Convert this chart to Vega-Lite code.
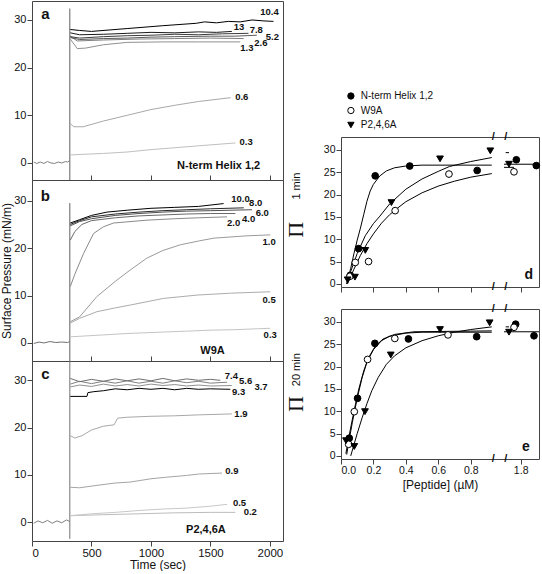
{
"$schema":"https://vega.github.io/schema/vega-lite/v6.json",
"padding":{"left":0,"top":0,"right":2,"bottom":0},
"background":"white",
"datasets":{
"tr":[
{"g":"a","s":"base","t":15,"p":0.2},{"g":"a","s":"base","t":40,"p":-0.1},{"g":"a","s":"base","t":70,"p":0.2},{"g":"a","s":"base","t":100,"p":-0.1},{"g":"a","s":"base","t":130,"p":0.3},{"g":"a","s":"base","t":160,"p":0},{"g":"a","s":"base","t":190,"p":-0.1},{"g":"a","s":"base","t":220,"p":0.2},{"g":"a","s":"base","t":250,"p":0},{"g":"a","s":"base","t":280,"p":0.3},{"g":"a","s":"base","t":300,"p":0.2},{"g":"a","s":"base","t":316,"p":0.5},
{"g":"a","s":"spike","t":318,"p":-3.57},{"g":"a","s":"spike","t":318,"p":32.4},
{"g":"a","s":"0.3","t":322,"p":1.7},{"g":"a","s":"0.3","t":600,"p":2.0},{"g":"a","s":"0.3","t":800,"p":2.3},{"g":"a","s":"0.3","t":1000,"p":2.8},{"g":"a","s":"0.3","t":1200,"p":3.2},{"g":"a","s":"0.3","t":1400,"p":3.6},{"g":"a","s":"0.3","t":1710,"p":4.2},
{"g":"a","s":"0.6","t":322,"p":8.3},{"g":"a","s":"0.6","t":350,"p":7.6},{"g":"a","s":"0.6","t":430,"p":7.6},{"g":"a","s":"0.6","t":600,"p":8.8},{"g":"a","s":"0.6","t":800,"p":10.0},{"g":"a","s":"0.6","t":1000,"p":11.2},{"g":"a","s":"0.6","t":1200,"p":12.1},{"g":"a","s":"0.6","t":1400,"p":12.9},{"g":"a","s":"0.6","t":1670,"p":13.7},
{"g":"a","s":"1.3","t":322,"p":26.0},{"g":"a","s":"1.3","t":380,"p":24.0},{"g":"a","s":"1.3","t":450,"p":24.1},{"g":"a","s":"1.3","t":600,"p":24.8},{"g":"a","s":"1.3","t":800,"p":25.3},{"g":"a","s":"1.3","t":1100,"p":25.4},{"g":"a","s":"1.3","t":1400,"p":25.4},{"g":"a","s":"1.3","t":1750,"p":25.4},
{"g":"a","s":"2.6","t":322,"p":26.6},{"g":"a","s":"2.6","t":380,"p":25.6},{"g":"a","s":"2.6","t":600,"p":25.8},{"g":"a","s":"2.6","t":900,"p":26.0},{"g":"a","s":"2.6","t":1200,"p":26.1},{"g":"a","s":"2.6","t":1500,"p":26.2},{"g":"a","s":"2.6","t":1780,"p":26.1},
{"g":"a","s":"5.2","t":322,"p":26.3},{"g":"a","s":"5.2","t":400,"p":25.9},{"g":"a","s":"5.2","t":600,"p":26.1},{"g":"a","s":"5.2","t":800,"p":26.2},{"g":"a","s":"5.2","t":1000,"p":26.4},{"g":"a","s":"5.2","t":1200,"p":26.5},{"g":"a","s":"5.2","t":1500,"p":26.6},{"g":"a","s":"5.2","t":1700,"p":26.6},{"g":"a","s":"5.2","t":1890,"p":26.8},
{"g":"a","s":"7.8","t":322,"p":26.5},{"g":"a","s":"7.8","t":400,"p":26.2},{"g":"a","s":"7.8","t":600,"p":26.5},{"g":"a","s":"7.8","t":800,"p":26.7},{"g":"a","s":"7.8","t":1000,"p":26.8},{"g":"a","s":"7.8","t":1200,"p":27.0},{"g":"a","s":"7.8","t":1400,"p":26.9},{"g":"a","s":"7.8","t":1600,"p":27.1},{"g":"a","s":"7.8","t":1820,"p":27.2},
{"g":"a","s":"13","t":322,"p":27.3},{"g":"a","s":"13","t":400,"p":26.9},{"g":"a","s":"13","t":600,"p":27.0},{"g":"a","s":"13","t":800,"p":27.2},{"g":"a","s":"13","t":1000,"p":27.4},{"g":"a","s":"13","t":1200,"p":27.3},{"g":"a","s":"13","t":1400,"p":27.5},{"g":"a","s":"13","t":1550,"p":27.4},{"g":"a","s":"13","t":1680,"p":27.6},
{"g":"a","s":"10.4","t":322,"p":28.0},{"g":"a","s":"10.4","t":400,"p":27.8},{"g":"a","s":"10.4","t":500,"p":27.6},{"g":"a","s":"10.4","t":800,"p":28.2},{"g":"a","s":"10.4","t":1100,"p":28.8},{"g":"a","s":"10.4","t":1380,"p":29.3},{"g":"a","s":"10.4","t":1450,"p":29.6},{"g":"a","s":"10.4","t":1550,"p":29.4},{"g":"a","s":"10.4","t":1650,"p":29.7},{"g":"a","s":"10.4","t":1750,"p":29.6},{"g":"a","s":"10.4","t":1850,"p":30.0},{"g":"a","s":"10.4","t":1950,"p":29.8},{"g":"a","s":"10.4","t":2030,"p":29.7},
{"g":"b","s":"base","t":15,"p":-0.1},{"g":"b","s":"base","t":60,"p":0.2},{"g":"b","s":"base","t":100,"p":0},{"g":"b","s":"base","t":150,"p":0.3},{"g":"b","s":"base","t":200,"p":0.1},{"g":"b","s":"base","t":250,"p":0.2},{"g":"b","s":"base","t":300,"p":0.1},{"g":"b","s":"base","t":316,"p":0.3},
{"g":"b","s":"spike","t":318,"p":-3.8},{"g":"b","s":"spike","t":318,"p":29.5},
{"g":"b","s":"0.3","t":322,"p":1.3},{"g":"b","s":"0.3","t":600,"p":1.7},{"g":"b","s":"0.3","t":800,"p":2.0},{"g":"b","s":"0.3","t":1100,"p":2.3},{"g":"b","s":"0.3","t":1300,"p":2.5},{"g":"b","s":"0.3","t":1500,"p":2.7},{"g":"b","s":"0.3","t":1700,"p":2.8},{"g":"b","s":"0.3","t":2003,"p":3.1},
{"g":"b","s":"0.5","t":322,"p":4.2},{"g":"b","s":"0.5","t":400,"p":5.2},{"g":"b","s":"0.5","t":546,"p":6.6},{"g":"b","s":"0.5","t":700,"p":7.4},{"g":"b","s":"0.5","t":826,"p":8.0},{"g":"b","s":"0.5","t":1106,"p":9.4},{"g":"b","s":"0.5","t":1387,"p":10.1},{"g":"b","s":"0.5","t":1667,"p":10.5},{"g":"b","s":"0.5","t":2003,"p":10.8},
{"g":"b","s":"1.0","t":322,"p":4.5},{"g":"b","s":"1.0","t":400,"p":5.5},{"g":"b","s":"1.0","t":546,"p":9.8},{"g":"b","s":"1.0","t":700,"p":13.0},{"g":"b","s":"1.0","t":826,"p":15.4},{"g":"b","s":"1.0","t":966,"p":17.9},{"g":"b","s":"1.0","t":1100,"p":19.5},{"g":"b","s":"1.0","t":1246,"p":20.7},{"g":"b","s":"1.0","t":1400,"p":21.5},{"g":"b","s":"1.0","t":1527,"p":22.1},{"g":"b","s":"1.0","t":1807,"p":22.6},{"g":"b","s":"1.0","t":2003,"p":22.8},
{"g":"b","s":"2.0","t":322,"p":11.9},{"g":"b","s":"2.0","t":360,"p":14.5},{"g":"b","s":"2.0","t":434,"p":18.9},{"g":"b","s":"2.0","t":518,"p":23.1},{"g":"b","s":"2.0","t":600,"p":24.5},{"g":"b","s":"2.0","t":686,"p":25.3},{"g":"b","s":"2.0","t":966,"p":25.9},{"g":"b","s":"2.0","t":1200,"p":26.2},{"g":"b","s":"2.0","t":1400,"p":26.4},{"g":"b","s":"2.0","t":1640,"p":26.6},
{"g":"b","s":"4.0","t":322,"p":21.7},{"g":"b","s":"4.0","t":360,"p":23.5},{"g":"b","s":"4.0","t":420,"p":25.0},{"g":"b","s":"4.0","t":500,"p":25.8},{"g":"b","s":"4.0","t":700,"p":26.4},{"g":"b","s":"4.0","t":900,"p":26.8},{"g":"b","s":"4.0","t":1100,"p":27.0},{"g":"b","s":"4.0","t":1300,"p":27.2},{"g":"b","s":"4.0","t":1500,"p":27.3},{"g":"b","s":"4.0","t":1710,"p":27.3},
{"g":"b","s":"6.0","t":322,"p":24.7},{"g":"b","s":"6.0","t":400,"p":25.6},{"g":"b","s":"6.0","t":500,"p":26.2},{"g":"b","s":"6.0","t":700,"p":26.9},{"g":"b","s":"6.0","t":900,"p":27.3},{"g":"b","s":"6.0","t":1100,"p":27.6},{"g":"b","s":"6.0","t":1300,"p":27.8},{"g":"b","s":"6.0","t":1500,"p":27.9},{"g":"b","s":"6.0","t":1850,"p":28.1},
{"g":"b","s":"8.0","t":322,"p":25.0},{"g":"b","s":"8.0","t":400,"p":25.8},{"g":"b","s":"8.0","t":500,"p":26.6},{"g":"b","s":"8.0","t":700,"p":27.2},{"g":"b","s":"8.0","t":900,"p":27.6},{"g":"b","s":"8.0","t":1100,"p":27.9},{"g":"b","s":"8.0","t":1300,"p":28.1},{"g":"b","s":"8.0","t":1500,"p":28.3},{"g":"b","s":"8.0","t":1780,"p":28.5},
{"g":"b","s":"10.0","t":322,"p":25.3},{"g":"b","s":"10.0","t":400,"p":26.0},{"g":"b","s":"10.0","t":500,"p":26.9},{"g":"b","s":"10.0","t":630,"p":27.6},{"g":"b","s":"10.0","t":800,"p":28.0},{"g":"b","s":"10.0","t":1000,"p":28.4},{"g":"b","s":"10.0","t":1200,"p":28.6},{"g":"b","s":"10.0","t":1400,"p":28.8},{"g":"b","s":"10.0","t":1611,"p":29.4},
{"g":"c","s":"base","t":15,"p":-0.2},{"g":"c","s":"base","t":50,"p":0.3},{"g":"c","s":"base","t":90,"p":-0.1},{"g":"c","s":"base","t":130,"p":0.4},{"g":"c","s":"base","t":170,"p":-0.2},{"g":"c","s":"base","t":210,"p":0.3},{"g":"c","s":"base","t":250,"p":-0.1},{"g":"c","s":"base","t":290,"p":0.5},{"g":"c","s":"base","t":316,"p":0.2},
{"g":"c","s":"spike","t":318,"p":-3.5},{"g":"c","s":"spike","t":318,"p":34.08},
{"g":"c","s":"0.2","t":322,"p":1.4},{"g":"c","s":"0.2","t":600,"p":1.6},{"g":"c","s":"0.2","t":900,"p":1.8},{"g":"c","s":"0.2","t":1200,"p":2.0},{"g":"c","s":"0.2","t":1500,"p":2.1},{"g":"c","s":"0.2","t":1710,"p":2.1},
{"g":"c","s":"0.5","t":322,"p":1.4},{"g":"c","s":"0.5","t":500,"p":1.8},{"g":"c","s":"0.5","t":700,"p":2.1},{"g":"c","s":"0.5","t":900,"p":2.5},{"g":"c","s":"0.5","t":1100,"p":2.8},{"g":"c","s":"0.5","t":1300,"p":3.0},{"g":"c","s":"0.5","t":1500,"p":3.4},{"g":"c","s":"0.5","t":1640,"p":3.8},
{"g":"c","s":"0.9","t":322,"p":7.4},{"g":"c","s":"0.9","t":400,"p":7.3},{"g":"c","s":"0.9","t":546,"p":7.8},{"g":"c","s":"0.9","t":700,"p":8.3},{"g":"c","s":"0.9","t":826,"p":8.5},{"g":"c","s":"0.9","t":1000,"p":9.2},{"g":"c","s":"0.9","t":1120,"p":9.5},{"g":"c","s":"0.9","t":1300,"p":9.9},{"g":"c","s":"0.9","t":1400,"p":10.2},{"g":"c","s":"0.9","t":1597,"p":10.4},
{"g":"c","s":"1.9","t":322,"p":18.3},{"g":"c","s":"1.9","t":360,"p":17.8},{"g":"c","s":"1.9","t":420,"p":18.3},{"g":"c","s":"1.9","t":500,"p":19.5},{"g":"c","s":"1.9","t":600,"p":20.3},{"g":"c","s":"1.9","t":690,"p":20.6},{"g":"c","s":"1.9","t":720,"p":22.0},{"g":"c","s":"1.9","t":800,"p":22.2},{"g":"c","s":"1.9","t":1000,"p":22.4},{"g":"c","s":"1.9","t":1200,"p":22.5},{"g":"c","s":"1.9","t":1400,"p":22.7},{"g":"c","s":"1.9","t":1680,"p":22.9},
{"g":"c","s":"3.7","t":322,"p":28.6},{"g":"c","s":"3.7","t":400,"p":29.0},{"g":"c","s":"3.7","t":500,"p":28.7},{"g":"c","s":"3.7","t":600,"p":29.2},{"g":"c","s":"3.7","t":700,"p":28.8},{"g":"c","s":"3.7","t":800,"p":29.1},{"g":"c","s":"3.7","t":900,"p":28.8},{"g":"c","s":"3.7","t":1000,"p":29.2},{"g":"c","s":"3.7","t":1100,"p":28.9},{"g":"c","s":"3.7","t":1200,"p":29.1},{"g":"c","s":"3.7","t":1300,"p":28.8},{"g":"c","s":"3.7","t":1400,"p":29.0},{"g":"c","s":"3.7","t":1500,"p":28.8},{"g":"c","s":"3.7","t":1680,"p":28.9},
{"g":"c","s":"5.6","t":322,"p":29.2},{"g":"c","s":"5.6","t":400,"p":29.8},{"g":"c","s":"5.6","t":500,"p":29.3},{"g":"c","s":"5.6","t":600,"p":29.8},{"g":"c","s":"5.6","t":700,"p":29.4},{"g":"c","s":"5.6","t":800,"p":29.9},{"g":"c","s":"5.6","t":900,"p":29.4},{"g":"c","s":"5.6","t":1000,"p":29.8},{"g":"c","s":"5.6","t":1100,"p":29.4},{"g":"c","s":"5.6","t":1200,"p":29.9},{"g":"c","s":"5.6","t":1300,"p":29.5},{"g":"c","s":"5.6","t":1400,"p":29.8},{"g":"c","s":"5.6","t":1500,"p":29.4},{"g":"c","s":"5.6","t":1640,"p":29.6},
{"g":"c","s":"7.4","t":322,"p":30.4},{"g":"c","s":"7.4","t":400,"p":29.7},{"g":"c","s":"7.4","t":500,"p":30.2},{"g":"c","s":"7.4","t":600,"p":29.8},{"g":"c","s":"7.4","t":700,"p":30.3},{"g":"c","s":"7.4","t":800,"p":29.9},{"g":"c","s":"7.4","t":900,"p":30.3},{"g":"c","s":"7.4","t":1000,"p":29.9},{"g":"c","s":"7.4","t":1100,"p":30.4},{"g":"c","s":"7.4","t":1200,"p":29.9},{"g":"c","s":"7.4","t":1300,"p":30.3},{"g":"c","s":"7.4","t":1400,"p":30.0},{"g":"c","s":"7.4","t":1500,"p":30.2},{"g":"c","s":"7.4","t":1583,"p":30.0},
{"g":"c","s":"9.3","t":322,"p":26.6},{"g":"c","s":"9.3","t":462,"p":26.6},{"g":"c","s":"9.3","t":470,"p":27.4},{"g":"c","s":"9.3","t":520,"p":27.6},{"g":"c","s":"9.3","t":600,"p":27.8},{"g":"c","s":"9.3","t":700,"p":28.2},{"g":"c","s":"9.3","t":800,"p":28.0},{"g":"c","s":"9.3","t":900,"p":28.3},{"g":"c","s":"9.3","t":1000,"p":28.1},{"g":"c","s":"9.3","t":1100,"p":28.3},{"g":"c","s":"9.3","t":1200,"p":28.0},{"g":"c","s":"9.3","t":1300,"p":28.3},{"g":"c","s":"9.3","t":1400,"p":28.1},{"g":"c","s":"9.3","t":1500,"p":28.2},{"g":"c","s":"9.3","t":1667,"p":28.1}
],
"an":[
{"g":"a","k":"c","txt":"10.4","t":1919,"p":31.7},{"g":"a","k":"c","txt":"13","t":1695,"p":28.6},{"g":"a","k":"c","txt":"7.8","t":1830,"p":28.0},{"g":"a","k":"c","txt":"5.2","t":1965,"p":26.5},{"g":"a","k":"c","txt":"2.6","t":1868,"p":25.1},{"g":"a","k":"c","txt":"1.3","t":1751,"p":24.2},{"g":"a","k":"c","txt":"0.6","t":1708,"p":13.8},{"g":"a","k":"c","txt":"0.3","t":1745,"p":4.5},
{"g":"a","k":"n","txt":"N-term Helix 1,2","t":1569,"p":-0.6},{"g":"a","k":"l","txt":"a","t":113,"p":31.2},
{"g":"b","k":"c","txt":"10.0","t":1675,"p":30.3},{"g":"b","k":"c","txt":"8.0","t":1825,"p":29.6},{"g":"b","k":"c","txt":"6.0","t":1880,"p":27.5},{"g":"b","k":"c","txt":"4.0","t":1765,"p":26.2},{"g":"b","k":"c","txt":"2.0","t":1640,"p":25.3},{"g":"b","k":"c","txt":"1.0","t":1938,"p":21.4},{"g":"b","k":"c","txt":"0.5","t":1938,"p":9.1},{"g":"b","k":"c","txt":"0.3","t":1947,"p":1.7},
{"g":"b","k":"n","txt":"W9A","t":1518,"p":-1.6},{"g":"b","k":"l","txt":"b","t":113,"p":30.9},
{"g":"c","k":"c","txt":"7.4","t":1620,"p":30.9},{"g":"c","k":"c","txt":"5.6","t":1740,"p":29.8},{"g":"c","k":"c","txt":"3.7","t":1870,"p":28.5},{"g":"c","k":"c","txt":"9.3","t":1681,"p":27.5},{"g":"c","k":"c","txt":"1.9","t":1701,"p":22.9},{"g":"c","k":"c","txt":"0.9","t":1625,"p":10.8},{"g":"c","k":"c","txt":"0.5","t":1689,"p":4.1},{"g":"c","k":"c","txt":"0.2","t":1779,"p":2.1},
{"g":"c","k":"n","txt":"P2,4,6A","t":1462,"p":-1.6},{"g":"c","k":"l","txt":"c","t":113,"p":31.4}
],
"pts":[
{"g":"d","pep":"N-term Helix 1,2","c":0.057,"v":1.9},{"g":"d","pep":"N-term Helix 1,2","c":0.108,"v":7.9},{"g":"d","pep":"N-term Helix 1,2","c":0.211,"v":24.2},{"g":"d","pep":"N-term Helix 1,2","c":0.424,"v":26.4},{"g":"d","pep":"N-term Helix 1,2","c":0.84,"v":25.4},{"g":"d","pep":"N-term Helix 1,2","c":1.774,"v":27.8},{"g":"d","pep":"N-term Helix 1,2","c":1.894,"v":26.5},
{"g":"d","pep":"W9A","c":0.055,"v":1.7},{"g":"d","pep":"W9A","c":0.088,"v":4.8},{"g":"d","pep":"W9A","c":0.17,"v":5.0},{"g":"d","pep":"W9A","c":0.334,"v":16.4},{"g":"d","pep":"W9A","c":0.666,"v":24.6},{"g":"d","pep":"W9A","c":1.76,"v":25.1},
{"g":"d","pep":"P2,4,6A","c":0.041,"v":0.9},{"g":"d","pep":"P2,4,6A","c":0.086,"v":1.5},{"g":"d","pep":"P2,4,6A","c":0.15,"v":7.5},{"g":"d","pep":"P2,4,6A","c":0.311,"v":18.2},{"g":"d","pep":"P2,4,6A","c":0.611,"v":28.0},{"g":"d","pep":"P2,4,6A","c":0.921,"v":29.8},{"g":"d","pep":"P2,4,6A","c":1.73,"v":26.8},
{"g":"e","pep":"N-term Helix 1,2","c":0.051,"v":3.96},{"g":"e","pep":"N-term Helix 1,2","c":0.102,"v":12.9},{"g":"e","pep":"N-term Helix 1,2","c":0.209,"v":25.2},{"g":"e","pep":"N-term Helix 1,2","c":0.416,"v":26.2},{"g":"e","pep":"N-term Helix 1,2","c":0.837,"v":26.7},{"g":"e","pep":"N-term Helix 1,2","c":1.77,"v":29.5},{"g":"e","pep":"N-term Helix 1,2","c":1.88,"v":26.9},
{"g":"e","pep":"W9A","c":0.047,"v":2.6},{"g":"e","pep":"W9A","c":0.082,"v":9.9},{"g":"e","pep":"W9A","c":0.164,"v":21.6},{"g":"e","pep":"W9A","c":0.332,"v":26.3},{"g":"e","pep":"W9A","c":0.66,"v":27.1},{"g":"e","pep":"W9A","c":1.76,"v":28.8},
{"g":"e","pep":"P2,4,6A","c":0.031,"v":3.4},{"g":"e","pep":"P2,4,6A","c":0.082,"v":2.1},{"g":"e","pep":"P2,4,6A","c":0.148,"v":9.9},{"g":"e","pep":"P2,4,6A","c":0.307,"v":22.6},{"g":"e","pep":"P2,4,6A","c":0.611,"v":28.3},{"g":"e","pep":"P2,4,6A","c":0.917,"v":29.8},{"g":"e","pep":"P2,4,6A","c":1.73,"v":27.7}
],
"fit":[
{"g":"d","k":"N","c":0.035,"v":0},{"g":"d","k":"N","c":0.06,"v":3.5},{"g":"d","k":"N","c":0.08,"v":6.8},{"g":"d","k":"N","c":0.1,"v":9.8},{"g":"d","k":"N","c":0.12,"v":12.5},{"g":"d","k":"N","c":0.14,"v":15.5},{"g":"d","k":"N","c":0.16,"v":18.5},{"g":"d","k":"N","c":0.18,"v":20.8},{"g":"d","k":"N","c":0.2,"v":22.3},{"g":"d","k":"N","c":0.24,"v":24.2},{"g":"d","k":"N","c":0.28,"v":25.3},{"g":"d","k":"N","c":0.33,"v":26.0},{"g":"d","k":"N","c":0.4,"v":26.4},{"g":"d","k":"N","c":0.5,"v":26.6},{"g":"d","k":"N","c":0.93,"v":26.6},
{"g":"d","k":"P","c":0.035,"v":0},{"g":"d","k":"P","c":0.06,"v":2.8},{"g":"d","k":"P","c":0.1,"v":6.8},{"g":"d","k":"P","c":0.15,"v":10.8},{"g":"d","k":"P","c":0.2,"v":13.5},{"g":"d","k":"P","c":0.236,"v":15.0},{"g":"d","k":"P","c":0.3,"v":17.9},{"g":"d","k":"P","c":0.4,"v":21.2},{"g":"d","k":"P","c":0.5,"v":23.5},{"g":"d","k":"P","c":0.6,"v":25.2},{"g":"d","k":"P","c":0.67,"v":26.3},{"g":"d","k":"P","c":0.8,"v":27.4},{"g":"d","k":"P","c":0.93,"v":28.3},
{"g":"d","k":"W","c":0.04,"v":0},{"g":"d","k":"W","c":0.08,"v":3.3},{"g":"d","k":"W","c":0.12,"v":6.4},{"g":"d","k":"W","c":0.16,"v":9.0},{"g":"d","k":"W","c":0.2,"v":11.2},{"g":"d","k":"W","c":0.25,"v":13.6},{"g":"d","k":"W","c":0.3,"v":15.5},{"g":"d","k":"W","c":0.35,"v":17.0},{"g":"d","k":"W","c":0.4,"v":18.4},{"g":"d","k":"W","c":0.5,"v":20.4},{"g":"d","k":"W","c":0.6,"v":21.9},{"g":"d","k":"W","c":0.7,"v":23.0},{"g":"d","k":"W","c":0.8,"v":23.9},{"g":"d","k":"W","c":0.93,"v":24.7},
{"g":"d","k":"N2","c":1.70,"v":26.8},{"g":"d","k":"N2","c":1.91,"v":26.8},{"g":"d","k":"W2","c":1.70,"v":26.1},{"g":"d","k":"W2","c":1.76,"v":26.1},{"g":"d","k":"P2","c":1.71,"v":29.4},{"g":"d","k":"P2","c":1.73,"v":29.4},
{"g":"e","k":"N","c":0.035,"v":0.3},{"g":"e","k":"N","c":0.05,"v":3.5},{"g":"e","k":"N","c":0.07,"v":7.5},{"g":"e","k":"N","c":0.1,"v":12.9},{"g":"e","k":"N","c":0.13,"v":17.5},{"g":"e","k":"N","c":0.16,"v":21.0},{"g":"e","k":"N","c":0.2,"v":23.8},{"g":"e","k":"N","c":0.25,"v":25.8},{"g":"e","k":"N","c":0.3,"v":26.8},{"g":"e","k":"N","c":0.4,"v":27.5},{"g":"e","k":"N","c":0.5,"v":27.7},{"g":"e","k":"N","c":0.93,"v":27.7},
{"g":"e","k":"W","c":0.03,"v":0.5},{"g":"e","k":"W","c":0.05,"v":4.5},{"g":"e","k":"W","c":0.08,"v":10.0},{"g":"e","k":"W","c":0.11,"v":15.0},{"g":"e","k":"W","c":0.14,"v":19.0},{"g":"e","k":"W","c":0.17,"v":22.0},{"g":"e","k":"W","c":0.21,"v":24.5},{"g":"e","k":"W","c":0.26,"v":26.2},{"g":"e","k":"W","c":0.33,"v":27.2},{"g":"e","k":"W","c":0.45,"v":27.8},{"g":"e","k":"W","c":0.93,"v":28.0},
{"g":"e","k":"P","c":0.06,"v":0},{"g":"e","k":"P","c":0.08,"v":2.5},{"g":"e","k":"P","c":0.1,"v":5.0},{"g":"e","k":"P","c":0.13,"v":8.5},{"g":"e","k":"P","c":0.16,"v":11.7},{"g":"e","k":"P","c":0.19,"v":14.6},{"g":"e","k":"P","c":0.23,"v":17.6},{"g":"e","k":"P","c":0.28,"v":20.5},{"g":"e","k":"P","c":0.33,"v":22.4},{"g":"e","k":"P","c":0.4,"v":24.2},{"g":"e","k":"P","c":0.5,"v":25.8},{"g":"e","k":"P","c":0.6,"v":26.9},{"g":"e","k":"P","c":0.7,"v":27.7},{"g":"e","k":"P","c":0.8,"v":28.3},{"g":"e","k":"P","c":0.93,"v":28.9},
{"g":"e","k":"N2","c":1.70,"v":27.8},{"g":"e","k":"N2","c":1.91,"v":27.8},{"g":"e","k":"P2","c":1.71,"v":28.9},{"g":"e","k":"P2","c":1.73,"v":28.9}
],
"brk":[{"c":0.94,"v":32.9},{"c":1.71,"v":32.9},{"c":0.94,"v":-0.7},{"c":1.71,"v":-0.7}],
"ra":[
{"g":"d","k":"pi","txt":"Π","c":-0.28,"v":12.1},{"g":"d","k":"sup","txt":"1 min","c":-0.27,"v":21.9},{"g":"d","k":"l","txt":"d","c":1.848,"v":1.9},
{"g":"e","k":"pi","txt":"Π","c":-0.28,"v":11.6},{"g":"e","k":"sup","txt":"20 min","c":-0.27,"v":19.3},{"g":"e","k":"l","txt":"e","c":1.832,"v":2.1}
],
"lg":[{"pep":"N-term Helix 1,2"},{"pep":"W9A"},{"pep":"P2,4,6A"}]
},
"spacing":0,
"hconcat":[
{"vconcat":[
 {"width":251,"height":179,
  "encoding":{"x":{"field":"t","type":"quantitative","scale":{"domain":[0,2110],"nice":false,"zero":false},"axis":{"values":[0,500,1000,1500,2000],"labels":false,"tickSize":-5,"title":null}},
   "y":{"field":"p","type":"quantitative","scale":{"domain":[-3.57,33.98],"nice":false,"zero":false},"axis":{"values":[0,10,20,30],"title":null}}},
  "layer":[
   {"data":{"name":"tr"},"transform":[{"filter":"datum.g==='a'"}],"mark":{"type":"line","strokeWidth":1},
    "encoding":{"color":{"field":"s","type":"nominal","scale":{"domain":["10.4","13","7.8","5.2","2.6","1.3","0.6","0.3","base","spike"],"range":["#000000","#1a1a1a","#3c3c3c","#5a5a5a","#808080","#909090","#a8a8a8","#c0c0c0","#808080","#606060"]},"legend":null}}},
   {"data":{"name":"an"},"transform":[{"filter":"datum.g==='a' && datum.k==='c'"}],"mark":{"type":"text","align":"left","baseline":"middle","fontSize":9.5,"fontWeight":"bold"},"encoding":{"text":{"field":"txt"}}},
   {"data":{"name":"an"},"transform":[{"filter":"datum.g==='a' && datum.k==='n'"}],"mark":{"type":"text","align":"center","baseline":"middle","fontSize":11,"fontWeight":"bold"},"encoding":{"text":{"field":"txt"}}},
   {"data":{"name":"an"},"transform":[{"filter":"datum.g==='a' && datum.k==='l'"}],"mark":{"type":"text","align":"center","baseline":"middle","fontSize":15,"fontWeight":"bold"},"encoding":{"text":{"field":"txt"}}}
  ]},
 {"width":251,"height":181,
  "encoding":{"x":{"field":"t","type":"quantitative","scale":{"domain":[0,2110],"nice":false,"zero":false},"axis":{"values":[0,500,1000,1500,2000],"labels":false,"tickSize":-5,"title":null}},
   "y":{"field":"p","type":"quantitative","scale":{"domain":[-3.8,34.37],"nice":false,"zero":false},"axis":{"values":[0,10,20,30],"title":"Surface Pressure (mN/m)","titlePadding":0}}},
  "layer":[
   {"data":{"name":"tr"},"transform":[{"filter":"datum.g==='b'"}],"mark":{"type":"line","strokeWidth":1},
    "encoding":{"color":{"field":"s","type":"nominal","scale":{"domain":["10.0","8.0","6.0","4.0","2.0","1.0","0.5","0.3","base","spike"],"range":["#000000","#2a2a2a","#505050","#686868","#8a8a8a","#9a9a9a","#acacac","#c4c4c4","#707070","#606060"]},"legend":null}}},
   {"data":{"name":"an"},"transform":[{"filter":"datum.g==='b' && datum.k==='c'"}],"mark":{"type":"text","align":"left","baseline":"middle","fontSize":9.5,"fontWeight":"bold"},"encoding":{"text":{"field":"txt"}}},
   {"data":{"name":"an"},"transform":[{"filter":"datum.g==='b' && datum.k==='n'"}],"mark":{"type":"text","align":"center","baseline":"middle","fontSize":11,"fontWeight":"bold"},"encoding":{"text":{"field":"txt"}}},
   {"data":{"name":"an"},"transform":[{"filter":"datum.g==='b' && datum.k==='l'"}],"mark":{"type":"text","align":"center","baseline":"middle","fontSize":15,"fontWeight":"bold"},"encoding":{"text":{"field":"txt"}}}
  ]},
 {"width":251,"height":180,
  "encoding":{"x":{"field":"t","type":"quantitative","scale":{"domain":[0,2110],"nice":false,"zero":false},"axis":{"values":[0,500,1000,1500,2000],"format":"d","title":"Time (sec)","titlePadding":1,"labelPadding":1,"labelFontSize":11.5}},
   "y":{"field":"p","type":"quantitative","scale":{"domain":[-3.95,34.08],"nice":false,"zero":false},"axis":{"values":[0,10,20,30],"title":null}}},
  "layer":[
   {"data":{"name":"tr"},"transform":[{"filter":"datum.g==='c'"}],"mark":{"type":"line","strokeWidth":1},
    "encoding":{"color":{"field":"s","type":"nominal","scale":{"domain":["9.3","7.4","5.6","3.7","1.9","0.9","0.5","0.2","base","spike"],"range":["#000000","#6e6e6e","#808080","#909090","#a8a8a8","#a4a4a4","#c8c8c8","#bcbcbc","#808080","#707070"]},"legend":null}}},
   {"data":{"name":"an"},"transform":[{"filter":"datum.g==='c' && datum.k==='c'"}],"mark":{"type":"text","align":"left","baseline":"middle","fontSize":9.5,"fontWeight":"bold"},"encoding":{"text":{"field":"txt"}}},
   {"data":{"name":"an"},"transform":[{"filter":"datum.g==='c' && datum.k==='n'"}],"mark":{"type":"text","align":"center","baseline":"middle","fontSize":11,"fontWeight":"bold"},"encoding":{"text":{"field":"txt"}}},
   {"data":{"name":"an"},"transform":[{"filter":"datum.g==='c' && datum.k==='l'"}],"mark":{"type":"text","align":"center","baseline":"middle","fontSize":15,"fontWeight":"bold"},"encoding":{"text":{"field":"txt"}}}
  ]}
 ],"spacing":0,"bounds":"flush","resolve":{"scale":{"color":"independent"}}},
{"vconcat":[
 {"width":198,"height":114,"view":{"stroke":null},"data":{"name":"lg"},
  "encoding":{"y":{"field":"pep","type":"nominal","scale":{"type":"point","domain":["N-term Helix 1,2","W9A","P2,4,6A"],"range":[95,124],"padding":0},"axis":null}},
  "layer":[
   {"mark":{"type":"point","stroke":"#000","strokeWidth":1,"opacity":1,"fillOpacity":1,"size":40},
    "encoding":{"x":{"datum":0.05,"type":"quantitative","scale":{"domain":[0,1],"nice":false,"zero":false},"axis":null},
     "shape":{"field":"pep","type":"nominal","scale":{"domain":["N-term Helix 1,2","W9A","P2,4,6A"],"range":["circle","circle","triangle-down"]},"legend":null},
     "fill":{"field":"pep","type":"nominal","scale":{"domain":["N-term Helix 1,2","W9A","P2,4,6A"],"range":["#000000","#ffffff","#000000"]},"legend":null}}},
   {"mark":{"type":"text","align":"left","baseline":"middle","fontSize":10},
    "encoding":{"x":{"datum":0.1,"type":"quantitative"},"text":{"field":"pep"}}}
  ]},
 {"width":198,"height":150,
  "encoding":{"x":{"field":"c","type":"quantitative","scale":{"domain":[0,0.95,1.7,1.91],"range":[0,154,163,198],"nice":false,"zero":false},"axis":{"values":[0,0.2,0.4,0.6,0.8,1.8],"labels":false,"title":null}},
   "y":{"field":"v","type":"quantitative","scale":{"domain":[-0.7,32.9],"nice":false,"zero":false},"axis":{"values":[0,5,10,15,20,25,30],"title":null,"labelFontSize":10.5}}},
  "layer":[
   {"data":{"name":"fit"},"transform":[{"filter":"datum.g==='d'"}],"mark":{"type":"line","color":"#000","strokeWidth":1},"encoding":{"detail":{"field":"k"}}},
   {"data":{"name":"pts"},"transform":[{"filter":"datum.g==='d'"}],"mark":{"type":"point","stroke":"#000","strokeWidth":1,"opacity":1,"fillOpacity":1,"size":45},
    "encoding":{"shape":{"field":"pep","type":"nominal","scale":{"domain":["N-term Helix 1,2","W9A","P2,4,6A"],"range":["circle","circle","triangle-down"]},"legend":null},
     "fill":{"field":"pep","type":"nominal","scale":{"domain":["N-term Helix 1,2","W9A","P2,4,6A"],"range":["#000000","#ffffff","#000000"]},"legend":null}}},
   {"data":{"name":"brk"},"mark":{"type":"text","text":"/","fontSize":11,"fontWeight":"bold","baseline":"middle"}},
   {"data":{"name":"ra"},"transform":[{"filter":"datum.g==='d' && datum.k==='pi'"}],"mark":{"type":"text","font":"Liberation Serif","fontSize":22,"angle":270,"align":"center","baseline":"middle"},"encoding":{"text":{"field":"txt"}}},
   {"data":{"name":"ra"},"transform":[{"filter":"datum.g==='d' && datum.k==='sup'"}],"mark":{"type":"text","fontSize":11,"angle":270,"align":"center","baseline":"middle"},"encoding":{"text":{"field":"txt"}}},
   {"data":{"name":"ra"},"transform":[{"filter":"datum.g==='d' && datum.k==='l'"}],"mark":{"type":"text","fontSize":14,"fontWeight":"bold","align":"center","baseline":"middle"},"encoding":{"text":{"field":"txt"}}}
  ]},
 {"width":198,"height":150,
  "encoding":{"x":{"field":"c","type":"quantitative","scale":{"domain":[0,0.95,1.7,1.91],"range":[0,154,163,198],"nice":false,"zero":false},"axis":{"values":[0,0.2,0.4,0.6,0.8,1.8],"format":".1f","title":"[Peptide]  (µM)","titlePadding":4,"labelFontSize":10.5}},
   "y":{"field":"v","type":"quantitative","scale":{"domain":[-0.7,32.9],"nice":false,"zero":false},"axis":{"values":[0,5,10,15,20,25,30],"title":null,"labelFontSize":10.5}}},
  "layer":[
   {"data":{"name":"fit"},"transform":[{"filter":"datum.g==='e'"}],"mark":{"type":"line","color":"#000","strokeWidth":1},"encoding":{"detail":{"field":"k"}}},
   {"data":{"name":"pts"},"transform":[{"filter":"datum.g==='e'"}],"mark":{"type":"point","stroke":"#000","strokeWidth":1,"opacity":1,"fillOpacity":1,"size":45},
    "encoding":{"shape":{"field":"pep","type":"nominal","scale":{"domain":["N-term Helix 1,2","W9A","P2,4,6A"],"range":["circle","circle","triangle-down"]},"legend":null},
     "fill":{"field":"pep","type":"nominal","scale":{"domain":["N-term Helix 1,2","W9A","P2,4,6A"],"range":["#000000","#ffffff","#000000"]},"legend":null}}},
   {"data":{"name":"brk"},"mark":{"type":"text","text":"/","fontSize":11,"fontWeight":"bold","baseline":"middle"}},
   {"data":{"name":"ra"},"transform":[{"filter":"datum.g==='e' && datum.k==='pi'"}],"mark":{"type":"text","font":"Liberation Serif","fontSize":22,"angle":270,"align":"center","baseline":"middle"},"encoding":{"text":{"field":"txt"}}},
   {"data":{"name":"ra"},"transform":[{"filter":"datum.g==='e' && datum.k==='sup'"}],"mark":{"type":"text","fontSize":11,"angle":270,"align":"center","baseline":"middle"},"encoding":{"text":{"field":"txt"}}},
   {"data":{"name":"ra"},"transform":[{"filter":"datum.g==='e' && datum.k==='l'"}],"mark":{"type":"text","fontSize":14,"fontWeight":"bold","align":"center","baseline":"middle"},"encoding":{"text":{"field":"txt"}}}
  ]}
 ],"spacing":22,"bounds":"flush"}
],
"config":{
 "view":{"stroke":"#444","strokeWidth":1},
 "axis":{"domain":false,"grid":false,"tickColor":"#444","tickSize":5,"labelFont":"Liberation Sans","labelFontSize":11,"labelColor":"#111","labelPadding":1,"titleFont":"Liberation Sans","titleFontSize":12,"titleFontWeight":"normal","titleColor":"#111"},
 "text":{"font":"Liberation Sans","color":"#111"}
}
}
